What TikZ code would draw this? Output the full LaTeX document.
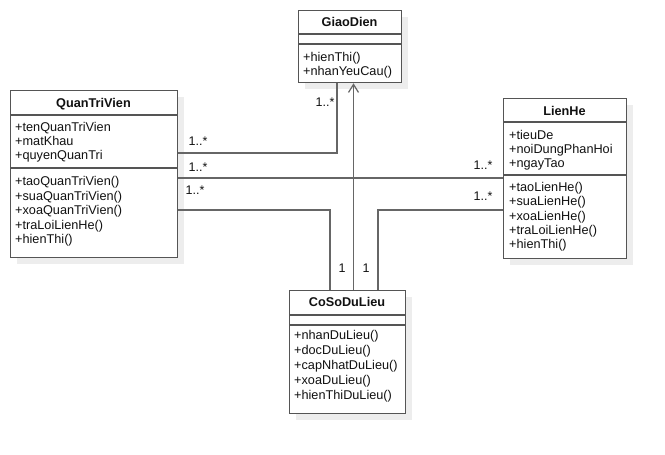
\documentclass[tikz,border=0pt]{standalone}
\usepackage{fontspec}
\setmainfont{Liberation Sans}
\usetikzlibrary{arrows.meta}
\definecolor{bordc}{HTML}{555555}
\definecolor{linec}{HTML}{666666}
\definecolor{shadc}{HTML}{EDEDED}
\definecolor{textc}{HTML}{111111}
\newcommand\clbox[7]{%
  \fill[shadc] (#2+7,#3+7) rectangle (#4+7,#5+7);
  \node[boxst, minimum width={(#4-#2)*1pt}, minimum height={(#5-#3)*1pt}] (#1) at (#2,#3) {};
  \draw[sepst] (#2,#6) -- (#4,#6) (#2,#7) -- (#4,#7);}
\begin{document}
\begin{tikzpicture}[x=1pt,y=-1pt,
  boxst/.style={draw=bordc, line width=1.3pt, fill=white, anchor=north west, inner sep=0pt},
  sepst/.style={bordc, line width=1.3pt},
  conn/.style={linec, line width=1.2pt},
  txt/.style={anchor=base west, inner sep=0pt, text=textc, font=\fontsize{12.7}{14.5}\selectfont},
  ttl/.style={anchor=base, inner sep=0pt, text=textc, font=\fontsize{12.7}{14.5}\selectfont\bfseries},
  lbl/.style={inner sep=0pt, text=textc, font=\fontsize{12.5}{14}\selectfont}]
\useasboundingbox (0,0) rectangle (665,455);
\fill[white] (0,0) rectangle (665,455);

% GiaoDien
\clbox{gd}{298}{10}{401}{82}{34}{44}
\node[ttl] (gdt) at (349.5,26.5) {GiaoDien};
\foreach \t [count=\i] in {+hienThi(),+nhanYeuCau()}
  \node[txt] (gdm\i) at ({303},{61+(\i-1)*14.5}) {\t};

% QuanTriVien
\clbox{qtv}{10}{90}{177}{257}{115}{168}
\node[ttl] (qtvt) at (93.5,107) {QuanTriVien};
\foreach \t [count=\i] in {+tenQuanTriVien,+matKhau,+quyenQuanTri}
  \node[txt] (qtva\i) at ({15},{131.5+(\i-1)*14}) {\t};
\foreach \t [count=\i] in {+taoQuanTriVien(),+suaQuanTriVien(),+xoaQuanTriVien(),+traLoiLienHe(),+hienThi()}
  \node[txt] (qtvm\i) at ({15},{185.5+(\i-1)*14.5}) {\t};

% LienHe
\clbox{lh}{503}{98}{626}{258}{122}{175}
\node[ttl] (lht) at (564.5,115) {LienHe};
\foreach \t [count=\i] in {+tieuDe,+noiDungPhanHoi,+ngayTao}
  \node[txt] (lha\i) at ({509},{139.5+(\i-1)*14}) {\t};
\foreach \t [count=\i] in {+taoLienHe(),+suaLienHe(),+xoaLienHe(),+traLoiLienHe(),+hienThi()}
  \node[txt] (lhm\i) at ({509},{191.5+(\i-1)*14.3}) {\t};

% CoSoDuLieu
\clbox{db}{289}{290}{405}{413}{315}{325}
\node[ttl] (dbt) at (347,306.5) {CoSoDuLieu};
\foreach \t [count=\i] in {+nhanDuLieu(),+docDuLieu(),+capNhatDuLieu(),+xoaDuLieu(),+hienThiDuLieu()}
  \node[txt] (dbm\i) at ({294},{339.5+(\i-1)*15}) {\t};

% connectors
\draw[conn] (qtv.east |- 0,153) -- (337,153) -- (337,0 |- gd.south);
\draw[conn] (qtv.east |- 0,178) -- (lh.west |- 0,178);
\draw[conn] (qtv.east |- 0,210) -- (330,210) -- (330,0 |- db.north);
\draw[conn] (lh.west |- 0,210) -- (378,210) -- (378,0 |- db.north);
\draw[conn, -{Straight Barb[length=8pt,width=10pt]}] (353.5,0 |- db.north) -- (353.5,0 |- gd.south);

% multiplicities
\node[lbl] (m1) at (325,102) {1..*};
\node[lbl] (m2) at (198,141) {1..*};
\node[lbl] (m3) at (198,167) {1..*};
\node[lbl] (m4) at (195,190) {1..*};
\node[lbl] (m5) at (483,165) {1..*};
\node[lbl] (m6) at (483,196) {1..*};
\node[lbl] (m7) at (342,268) {1};
\node[lbl] (m8) at (366,268) {1};
\end{tikzpicture}
\end{document}
